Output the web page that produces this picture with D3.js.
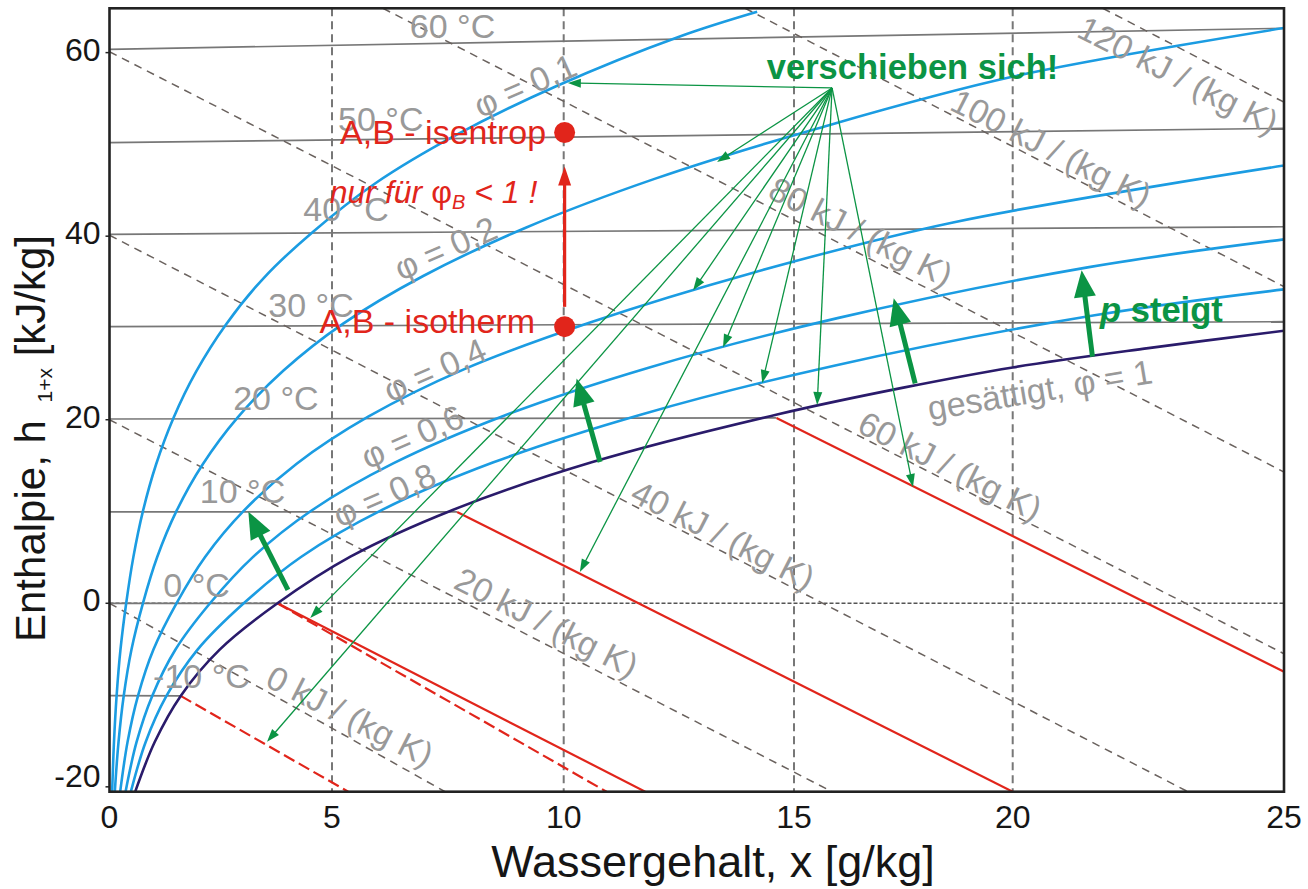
<!DOCTYPE html>
<html>
<head>
<meta charset="utf-8">
<script src="https://cdn.jsdelivr.net/npm/d3@7"></script>
<style>
  body { margin: 0; background: #fff; }
  svg { display: block; }
  text { font-family: "Liberation Sans", Arial, sans-serif; }
</style>
</head>
<body>
<svg id="chart" width="1308" height="889"></svg>
<script>
// ---------- data (x in g/kg, h in kJ/kg) ----------
const xTicks = [0, 5, 10, 15, 20, 25];
const yTicks = [-20, 0, 20, 40, 60];
const gridX = [5, 10, 15, 20];

// lines of constant relative humidity
const phi01 = [[0.06,-20.5],[0.101,-15.09],[0.16,-10.06],[0.247,-5.03],[0.375,0],[0.536,5.03],[0.753,10.07],[1.046,15.12],[1.435,20.17],[1.946,25.24],[2.61,30.33],[3.465,35.44],[4.556,40.41],[5.937,45.77],[7.672,51.01],[9.836,56.34],[12.521,61.76],[14.2,64.45]];
const phi02 = [[0.12,-20.5],[0.203,-15.09],[0.32,-10.07],[0.494,-5.03],[0.751,0],[1.072,5.04],[1.509,10.09],[2.096,15.15],[2.877,20.23],[3.904,25.33],[5.241,30.47],[6.968,35.66],[9.18,40.92],[11.988,46.27],[15.536,51.74],[19.99,57.37],[25,62.68]];
const phi04 = [[0.241,-20.5],[0.406,-15.1],[0.64,-10.08],[0.988,-5.03],[1.505,0],[2.148,5.05],[3.025,10.12],[4.206,15.21],[5.781,20.33],[7.857,25.52],[10.572,30.6],[14.094,36.0],[18.635,41.5],[25,47.7]];
const phi06 = [[0.362,-20.5],[0.609,-15.11],[0.96,-10.1],[1.483,-5.04],[2.259,0],[3.227,5.06],[4.549,10.14],[6.331,15.27],[8.711,20.44],[11.861,25.7],[15.994,31.07],[21.38,36.6],[25,39.65]];
const phi08 = [[0.482,-20.5],[0.813,-15.11],[1.28,-10.1],[1.979,-5.05],[3.016,0],[4.311,5.07],[6.08,10.17],[8.47,15.33],[11.67,20.55],[15.917,25.89],[21.51,31.38],[25,34.2]];
const phiSat = [[0.58,-20.5],[1.016,-15.12],[1.6,-10.09],[2.476,-5.05],[3.775,0],[5.397,5.08],[7.618,10.2],[10.624,15.39],[14.656,20.6],[17.5,23.5],[20,25.7],[22.5,27.8],[25,29.7]];
const phiCurves = [phi01, phi02, phi04, phi06, phi08];
const phiNames = ["0,1", "0,2", "0,4", "0,6", "0,8"];
const phiLabelAt = [[9.165,56.44],[7.45,38.7],[7.22,25.42],[6.73,18.15],[6.13,11.8]];

// isotherms in the unsaturated region
const isoTemps = [-10, 0, 10, 20, 30, 40, 50, 60];
const isoLines = [
  [[0,-10.06],[1.6,-10.09]],
  [[0,0],[3.775,0]],
  [[0,9.95],[7.7,9.95]],
  [[0,20.08],[14.62,20.2]],
  [[0,30.14],[25,30.68]],
  [[0,40.2],[25,41.03]],
  [[0,50.19],[25,51.75]],
  [[0,60.36],[25,62.65]]
];
const isoLabelAt = [[0.98,-9.2],[1.21,0.72],[2.03,10.9],[2.78,21.1],[3.57,31.2],[4.355,41.6],[5.13,51.5],[6.68,61.6]];

// isotherms in the fog region (solid: liquid water, dashed: ice)
const fogLines = [
  { ice: false, pts: [[14.62,20.2],[25,-7.45]] },
  { ice: false, pts: [[7.7,9.95],[20,-20.53]] },
  { ice: false, pts: [[3.775,0],[11.77,-20.53]] },
  { ice: true,  pts: [[3.775,0],[10.93,-20.53]] },
  { ice: true,  pts: [[1.6,-10.09],[5.35,-20.53]] }
];

// lines of constant entropy
const entropyValues = [0, 20, 40, 60, 80, 100, 120];
const entropyLines = [
  [[0,0],[7.44,-20.53]],
  [[0,20],[15.87,-20.53]],
  [[0,40.1],[23.23,-20.53]],
  [[0,60.1],[25,-5.5]],
  [[6.1,64.83],[25,14.3]],
  [[13.94,64.83],[25,34.5]],
  [[21.66,64.83],[25,54.6]]
];
const entropyLabelAt = [[5.39,-12.28],[9.63,-2.09],[13.46,7.44],[18.57,14.96],[16.53,40.46],[20.71,49.6],[23.05,57.56]];

// "verschieben sich!" pointers: common origin and the targets
const shiftOrigin = [15.87, 56.15];
const shiftTargets = [[10.09,56.7],[13.33,48.08],[12.81,34.1],[13.46,27.9],[14.31,24.0],[15.53,21.6],[17.72,12.67],[10.35,3.41],[4.51,-1.6],[3.54,-15.1]];

// "p steigt": shift of the curves with rising pressure
const pressureArrows = [
  [[4.01,1.45],[3.12,9.98]],
  [[10.79,15.4],[10.28,24.5]],
  [[17.77,23.97],[17.28,33.23]],
  [[21.47,26.87],[21.27,36.3]]
];

// states A,B
const stateIsentrop = [10.02, 51.3];
const stateIsotherm = [10.02, 30.14];

// ---------- scales ----------
const svg = d3.select("#chart");
const plot = { left: 109.5, right: 1284, top: 8.3, bottom: 791.7 };
const x = d3.scaleLinear().domain(xTicks).range([109.5, 332, 563.7, 794, 1012.7, 1284]);
const y = d3.scaleLinear().domain([-20.53, 64.83]).range([plot.bottom, plot.top]);

const straight = d3.line().x(d => x(d[0])).y(d => y(d[1]));
const smooth = d3.line().x(d => x(d[0])).y(d => y(d[1])).curve(d3.curveCatmullRom.alpha(0.5));

const C = {
  grey: "#777777", label: "#999999", dash: "#6a625e",
  blue: "#1b9ce2", navy: "#2a1b6b", red: "#e1251b", green: "#0b9444", ink: "#161616"
};

svg.append("defs").append("clipPath").attr("id", "plotClip")
  .append("rect").attr("x", plot.left).attr("y", plot.top)
  .attr("width", plot.right - plot.left).attr("height", plot.bottom - plot.top);

const g = svg.append("g").attr("clip-path", "url(#plotClip)");

// vertical grid
g.selectAll(".gx").data(gridX).join("line")
  .attr("x1", d => x(d)).attr("x2", d => x(d))
  .attr("y1", plot.top).attr("y2", plot.bottom)
  .attr("stroke", C.grey).attr("stroke-width", 2).attr("stroke-dasharray", "8,5");

// h = 0 reference line
g.append("line")
  .attr("x1", plot.left).attr("x2", plot.right)
  .attr("y1", y(0)).attr("y2", y(0))
  .attr("stroke", "#555").attr("stroke-width", 1.4).attr("stroke-dasharray", "4,2");

// isotherms
g.selectAll(".iso").data(isoLines).join("path")
  .attr("d", straight).attr("fill", "none")
  .attr("stroke", C.grey).attr("stroke-width", 1.7);

// entropy lines
g.selectAll(".ent").data(entropyLines).join("path")
  .attr("d", straight).attr("fill", "none")
  .attr("stroke", C.dash).attr("stroke-width", 1.5).attr("stroke-dasharray", "8,6");

// grey labels
const lab = svg.append("g").attr("fill", C.label).attr("font-size", 34);
lab.selectAll(".isoLab").data(isoTemps).join("text")
  .attr("x", (d, i) => x(isoLabelAt[i][0])).attr("y", (d, i) => y(isoLabelAt[i][1]))
  .text(d => `${d} °C`);

lab.selectAll(".entLab").data(entropyValues).join("text")
  .attr("text-anchor", "middle").attr("dy", "0.35em")
  .attr("transform", (d, i) => `translate(${x(entropyLabelAt[i][0])},${y(entropyLabelAt[i][1])}) rotate(27)`)
  .text(d => `${d} kJ / (kg K)`);

lab.selectAll(".phiLab").data(phiNames).join("text")
  .attr("text-anchor", "middle").attr("dy", "0.35em")
  .attr("transform", (d, i) => `translate(${x(phiLabelAt[i][0])},${y(phiLabelAt[i][1])}) rotate(-24)`)
  .text(d => `φ = ${d}`);

lab.append("text")
  .attr("text-anchor", "middle").attr("dy", "0.35em")
  .attr("transform", `translate(${x(20.5)},${y(23.26)}) rotate(-9.5)`)
  .text("gesättigt, φ = 1");

// fog isotherms
g.selectAll(".fog").data(fogLines).join("path")
  .attr("d", d => straight(d.pts)).attr("fill", "none")
  .attr("stroke", C.red).attr("stroke-width", 2.2)
  .attr("stroke-dasharray", d => d.ice ? "12,5" : null);

// relative humidity curves
g.selectAll(".phi").data(phiCurves).join("path")
  .attr("d", smooth).attr("fill", "none")
  .attr("stroke", C.blue).attr("stroke-width", 2.6);
g.append("path").datum(phiSat)
  .attr("d", smooth).attr("fill", "none")
  .attr("stroke", C.navy).attr("stroke-width", 2.6);

// arrows
function arrow(sel, from, to, o) {
  const x0 = x(from[0]), y0 = y(from[1]), x1 = x(to[0]), y1 = y(to[1]);
  const L = Math.hypot(x1 - x0, y1 - y0), ux = (x1 - x0) / L, uy = (y1 - y0) / L;
  const bx = x1 - ux * o.len, by = y1 - uy * o.len;
  sel.append("line")
    .attr("x1", x0).attr("y1", y0).attr("x2", bx + ux * 2).attr("y2", by + uy * 2)
    .attr("stroke", o.color).attr("stroke-width", o.width);
  sel.append("path")
    .attr("d", `M${x1},${y1}L${bx - uy * o.half},${by + ux * o.half}L${bx + uy * o.half},${by - ux * o.half}Z`)
    .attr("fill", o.color);
}

const ann = svg.append("g");
shiftTargets.forEach(t => arrow(ann, shiftOrigin, t, { len: 13, half: 4.5, width: 1.3, color: C.green }));
pressureArrows.forEach(a => arrow(ann, a[0], a[1], { len: 27, half: 11, width: 5, color: C.green }));

// states A,B and the isentropic compression arrow
arrow(ann, [stateIsotherm[0], 32.3], [stateIsotherm[0], 47.6], { len: 19, half: 6.5, width: 3.2, color: C.red });
ann.selectAll(".state").data([stateIsentrop, stateIsotherm]).join("circle")
  .attr("cx", d => x(d[0])).attr("cy", d => y(d[1])).attr("r", 10.5).attr("fill", C.red);

const redText = svg.append("g").attr("fill", C.red);
redText.append("text").attr("font-size", 34).attr("text-anchor", "end")
  .attr("x", x(9.62)).attr("y", y(50.03)).text("A,B - isentrop");
redText.append("text").attr("font-size", 34).attr("text-anchor", "end")
  .attr("x", x(9.38)).attr("y", y(29.4)).text("A,B - isotherm");
const note = redText.append("text").attr("font-size", 32)
  .attr("x", x(4.95)).attr("y", y(43.58));
note.append("tspan").attr("font-style", "italic").text("nur für ");
note.append("tspan").text("φ");
note.append("tspan").attr("font-style", "italic").attr("font-size", 20).attr("dy", 6).text("B");
note.append("tspan").attr("font-style", "italic").attr("dy", -6).text(" < 1 !");

// green captions
const greenText = svg.append("g").attr("fill", C.green).attr("font-weight", "bold").attr("font-size", 34.5);
greenText.append("text").attr("x", x(14.41)).attr("y", y(57.1)).text("verschieben sich!");
const ps = greenText.append("text").attr("x", x(21.61)).attr("y", y(30.7));
ps.append("tspan").attr("font-style", "italic").text("p");
ps.append("tspan").text(" steigt");

// frame
svg.append("rect")
  .attr("x", plot.left).attr("y", plot.top)
  .attr("width", plot.right - plot.left).attr("height", plot.bottom - plot.top)
  .attr("fill", "none").attr("stroke", "#222").attr("stroke-width", 2.6);

// axes
const ax = svg.append("g").attr("fill", C.ink);
ax.selectAll(".yt").data(yTicks).join("line")
  .attr("x1", plot.left - 4).attr("x2", plot.left)
  .attr("y1", d => y(d)).attr("y2", d => y(d))
  .attr("stroke", "#222").attr("stroke-width", 1.5);
ax.selectAll(".yl").data(yTicks).join("text")
  .attr("font-size", 32).attr("text-anchor", "end").attr("dy", "0.35em")
  .attr("x", plot.left - 9)
  .attr("y", d => Math.min(y(d) - 3, plot.bottom - 16))
  .text(d => d);
ax.selectAll(".xl").data(xTicks).join("text")
  .attr("font-size", 32).attr("text-anchor", "middle")
  .attr("x", d => x(d)).attr("y", 828)
  .text(d => d);

ax.append("text").attr("font-size", 45).attr("text-anchor", "middle")
  .attr("x", 713).attr("y", 877).text("Wassergehalt, x [g/kg]");

const yt = ax.append("text").attr("font-size", 42)
  .attr("transform", "translate(45,642) rotate(-90)");
yt.append("tspan").text("Enthalpie, h ");
yt.append("tspan").attr("font-size", 21).attr("dy", 7).attr("dx", 6).text("1+x");
yt.append("tspan").attr("dy", -7).text(" [kJ/kg]");
</script>
</body>
</html>
